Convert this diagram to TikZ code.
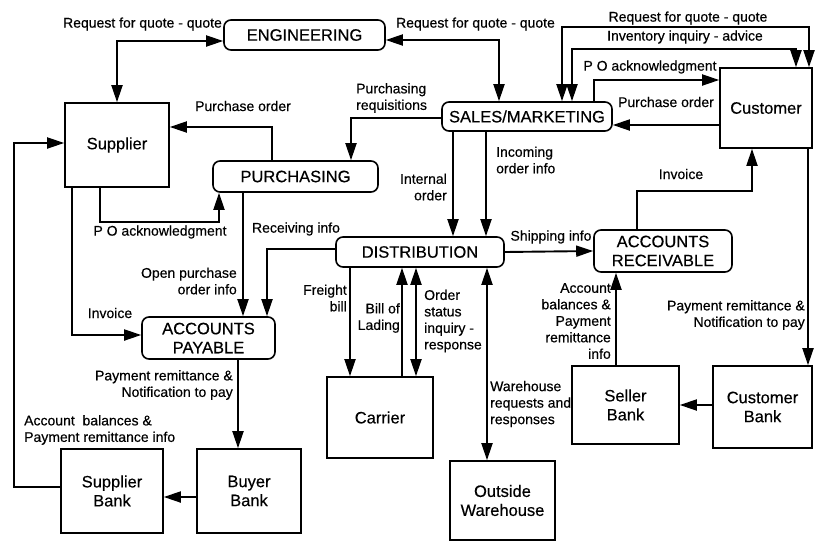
\documentclass[tikz,border=0pt]{standalone}
\usepackage{fontspec}
\setmainfont{Liberation Sans}[FakeBold=0.4]
\usetikzlibrary{arrows.meta}
\begin{document}
\begin{tikzpicture}[x=1pt,y=-1pt,
  box/.style={draw, line width=1.6pt, inner sep=0pt, align=center,
    font=\fontsize{16.5}{19}\selectfont},
  rbox/.style={box, rounded corners=7pt},
  lbl/.style={inner sep=0pt, font=\fontsize{14}{16.5}\selectfont},
  arr/.style={line width=1.9pt, -{Triangle[length=17pt,width=11pt]}},
  dbl/.style={line width=1.9pt, {Triangle[length=17pt,width=11pt]}-{Triangle[length=17pt,width=11pt]}}]
\useasboundingbox (0,0) rectangle (815,542);

% departments (rounded) and outside parties (square)
\node[rbox, minimum width=161pt, minimum height=30pt] (eng) at (304.5,35) {ENGINEERING};
\node[box, minimum width=104pt, minimum height=84pt] (sup) at (117,145) {Supplier};
\node[rbox, minimum width=165pt, minimum height=31pt] (pur) at (295.5,176.5) {PURCHASING};
\node[rbox, minimum width=170pt, minimum height=29pt] (sales) at (527,116.5) {SALES/MARKETING};
\node[box, minimum width=92pt, minimum height=80pt] (cust) at (766,108) {Customer};
\node[rbox, minimum width=168pt, minimum height=30pt] (dist) at (420,252) {DISTRIBUTION};
\node[rbox, minimum width=138pt, minimum height=42pt] (ar) at (663,251) {ACCOUNTS\\RECEIVABLE};
\node[rbox, minimum width=133pt, minimum height=42pt] (ap) at (208.5,338) {ACCOUNTS\\PAYABLE};
\node[box, minimum width=106pt, minimum height=81pt] (carrier) at (380,417.5) {Carrier};
\node[box, minimum width=105pt, minimum height=79pt] (ow) at (502.5,500.5) {Outside\\Warehouse};
\node[box, minimum width=107pt, minimum height=78pt] (sb) at (625.5,405) {Seller\\Bank};
\node[box, minimum width=99pt, minimum height=82pt] (cb) at (762.5,407) {Customer\\Bank};
\node[box, minimum width=102pt, minimum height=84pt] (supb) at (112,491) {Supplier\\Bank};
\node[box, minimum width=104pt, minimum height=84pt] (bb) at (249,491) {Buyer\\Bank};

% flows around sales and engineering
\draw[dbl] ([yshift=-6pt]eng.west) -| (sup.north);
\draw[dbl] ([yshift=-5pt]eng.east) -| ([xshift=-28pt]sales.north);
\draw[dbl] ([xshift=35pt]sales.north) |- ([xshift=43pt,yshift=40pt]cust.north) -- ([xshift=43pt]cust.north);
\draw[dbl] ([xshift=45pt]sales.north) |- ([xshift=30pt,yshift=18pt]cust.north) -- ([xshift=30pt]cust.north);
\draw[arr] ([xshift=67pt]sales.north) |- ([yshift=28pt]cust.west);
\draw[arr] ([yshift=-17pt]cust.west) -- ([yshift=-8.5pt]sales.east);
\draw[arr] ([yshift=-1.5pt]sales.west) -| ([xshift=55.5pt]pur.north);
\draw[arr] ([xshift=-41pt]sales.south) -- ([xshift=66pt]dist.north);
\draw[arr] ([xshift=-74pt]sales.south) -- ([xshift=33pt]dist.north);

% purchasing side
\draw[arr] ([xshift=-23.5pt]pur.north) |- ([yshift=18pt]sup.east);
\draw[arr] ([xshift=-17pt]sup.south) |- ([xshift=-76.5pt,yshift=-29pt]pur.south) -- ([xshift=-76.5pt]pur.south);
\draw[arr] ([xshift=-52.5pt]pur.south) -- ([xshift=34.5pt]ap.north);
\draw[arr] ([yshift=3pt]dist.west) -| ([xshift=58.5pt]ap.north);
\draw[arr] ([xshift=-45pt]sup.south) |- ([yshift=3pt]ap.west);
\draw[arr] ([yshift=4pt]supb.west) -- ++(-46,0) |- ([yshift=2pt]sup.west);
\draw[arr] ([xshift=29.5pt]ap.south) -- ([xshift=-11pt]bb.north);
\draw[arr] ([yshift=-6pt]bb.west) -- ([yshift=-6pt]supb.east);

% distribution and receivables side
\draw[arr] (dist.east) -- (ar.west);
\draw[arr] ([xshift=-26pt]ar.north) -- ++(0,-38) -| ([xshift=-14pt]cust.south);
\draw[arr] ([xshift=42pt]cust.south) -- ([xshift=45.5pt]cb.north);
\draw[arr] ([xshift=-9.5pt]sb.north) -- ([xshift=-47pt]ar.south);
\draw[arr] ([yshift=2pt]cb.west) -- (sb.east);
\draw[arr] ([xshift=-70pt]dist.south) -- ([xshift=-30pt]carrier.north);
\draw[arr] ([xshift=22pt]carrier.north) -- ([xshift=-18pt]dist.south);
\draw[dbl] ([xshift=36pt]carrier.north) -- ([xshift=-4pt]dist.south);
\draw[dbl] ([xshift=67pt]dist.south) -- ([xshift=-15.5pt]ow.north);

% flow labels
\node[lbl] (l1) at (142.5,24) {Request for quote - quote};
\node[lbl] (l2) at (475.5,24) {Request for quote - quote};
\node[lbl] (l3) at (688,18) {Request for quote - quote};
\node[lbl] (l4) at (685,37) {Inventory inquiry - advice};
\node[lbl] (l5) at (650,67) {P O acknowledgment};
\node[lbl] (l6) at (666,102) {Purchase order};
\node[lbl, anchor=west, align=left] (l7) at (356,98) {Purchasing\\requisitions};
\node[lbl] (l8) at (243,106) {Purchase order};
\node[lbl] (l9) at (160,232) {P O acknowledgment};
\node[lbl] (l10) at (296,229) {Receiving info};
\node[lbl, anchor=east, align=right] (l11) at (237,281) {Open purchase\\order info};
\node[lbl] (l12) at (110,313) {Invoice};
\node[lbl, anchor=west, align=left] (l13) at (24,430) {Account\ \ balances \&\\Payment remittance info};
\node[lbl, anchor=east, align=right] (l14) at (233,385) {Payment remittance \&\\Notification to pay};
\node[lbl, anchor=east, align=right] (l15) at (447,187) {Internal\\order};
\node[lbl, anchor=west, align=left] (l16) at (496,160) {Incoming\\order info};
\node[lbl] (l17) at (551,237) {Shipping info};
\node[lbl] (l18) at (681,174) {Invoice};
\node[lbl, anchor=east, align=right] (l19) at (805,315) {Payment remittance \&\\Notification to pay};
\node[lbl, anchor=east, align=right] (l20) at (611,321) {Account\\balances \&\\Payment\\remittance\\info};
\node[lbl, anchor=east, align=right] (l21) at (347,298) {Freight\\bill};
\node[lbl, anchor=east, align=right] (l22) at (400,318) {Bill of\\Lading};
\node[lbl, anchor=west, align=left] (l23) at (424,321) {Order\\status\\inquiry -\\response};
\node[lbl, anchor=west, align=left] (l24) at (490,404) {Warehouse\\requests and\\responses};
\end{tikzpicture}
\end{document}
